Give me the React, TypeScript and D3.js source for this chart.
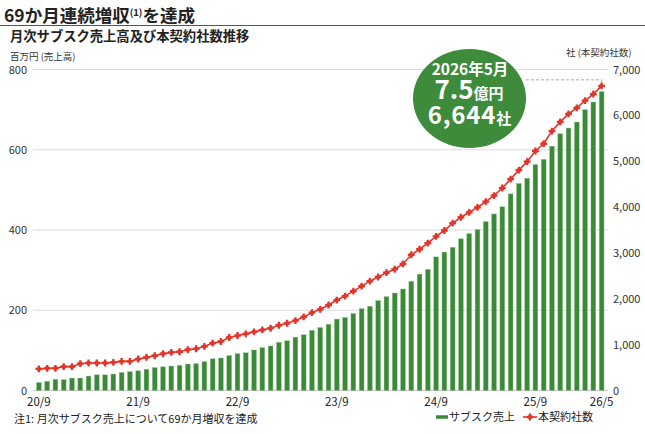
import React from "react";
import * as d3 from "d3";

const months: string[] = [];
const startY = 2020, startM = 9;
for (let i = 0; i < 69; i++) {
  const m = ((startM - 1 + i) % 12) + 1;
  const y = startY + Math.floor((startM - 1 + i) / 12);
  months.push(`${String(y).slice(2)}/${m}`);
}

const sales: number[] = [
  20, 23, 28, 27, 31, 31, 36, 39, 39, 41, 45, 47, 49, 53, 57, 59, 61, 63, 66, 67, 72,
  79, 81, 87, 92, 94, 101, 107, 111, 120, 124, 133, 139, 150, 157, 165, 178, 182, 192, 204, 210, 224, 234, 243, 253,
  272, 290, 302, 333, 345, 357, 378, 391, 401, 421, 440, 458, 490, 516, 529, 563, 576, 609, 640, 654, 669, 700, 719, 745,
];

const clients: number[] = [
  470, 484, 484, 520, 520, 585, 600, 600, 600, 614, 636, 636, 686, 722, 758, 802, 831, 845, 889, 910, 961,
  1033, 1069, 1156, 1199, 1235, 1279, 1322, 1358, 1423, 1467, 1524, 1604, 1698, 1770, 1864, 1972, 2059, 2167, 2276, 2385, 2476, 2570, 2645, 2760,
  2960, 3080, 3213, 3360, 3489, 3650, 3778, 3886, 3994, 4118, 4248, 4415, 4610, 4805, 4991, 5223, 5381, 5657, 5858, 6032, 6162, 6322, 6465, 6644,
];

const xTickLabels: string[] = ["20/9", "21/9", "22/9", "23/9", "24/9", "25/9", "26/5"];
const leftTicks: number[] = [0, 200, 400, 600, 800];
const rightTicks: number[] = [0, 1000, 2000, 3000, 4000, 5000, 6000, 7000];

const FONT = "'Noto Sans CJK JP', 'Noto Sans', sans-serif";
const GREEN = "#3a8a38";
const RED = "#e0362c";

function Marker({ x, y }: { x: number; y: number }) {
  const cross = d3.symbol().type(d3.symbolCross).size(26)() as string;
  return (
    <g transform={`translate(${x},${y})`}>
      <circle r={2.2} fill={RED} />
      <path d={cross} fill={RED} />
    </g>
  );
}

export default function App() {
  const x = d3.scaleBand<string>().domain(months).range([33, 607.5]).padding(0.42);
  const yL = d3.scaleLinear().domain([0, 800]).range([390.5, 69.5]);
  const yR = d3.scaleLinear().domain([0, 7000]).range([390.5, 69.5]);
  const cx = (m: string) => (x(m) as number) + x.bandwidth() / 2;

  const line = d3
    .line<number>()
    .x((_, i) => cx(months[i]))
    .y((d) => yR(d));

  const fmt = d3.format(",");
  const last = months.length - 1;

  return (
    <svg
      width={645}
      height={434}
      style={{ position: "absolute", left: 0, top: 0, background: "#fff" }}
      fontFamily={FONT}
    >
      <rect width={645} height={434} fill="#fff" />
      {/* Title */}
      <text x={4} y={22} fontSize={17.5} fontWeight={700} fill="#222">
        69か月連続増収
        <tspan fontSize={9.5} dy={-6}>(1)</tspan>
        <tspan dy={6}>を達成</tspan>
      </text>
      <line x1={0} x2={645} y1={25.5} y2={25.5} stroke="#555" strokeWidth={1.2} />
      <text x={10} y={41} fontSize={13.3} fontWeight={700} fill="#222">
        月次サブスク売上高及び本契約社数推移
      </text>
      <text x={10} y={60} fontSize={9.5} fill="#333">
        百万円 (売上高)
      </text>
      <text x={566} y={55.5} fontSize={9.5} fill="#333">
        社 (本契約社数)
      </text>

      {/* gridlines */}
      {leftTicks.filter((t) => t > 0).map((t) => (
        <line key={t} x1={33} x2={608} y1={yL(t)} y2={yL(t)} stroke="#dcdcdc" strokeWidth={1} />
      ))}
      <line x1={33} x2={608} y1={yL(0)} y2={yL(0)} stroke="#c8c8c8" strokeWidth={1} />

      {/* left ticks */}
      {leftTicks.map((t) => (
        <text key={t} x={27} y={yL(t) + 4} fontSize={11} textAnchor="end" fill="#333">
          {t}
        </text>
      ))}
      {/* right ticks */}
      {rightTicks.map((t) => (
        <text key={t} x={613} y={yR(t) + 4} fontSize={11} fill="#333">
          {fmt(t)}
        </text>
      ))}

      {/* bars */}
      {sales.map((v, i) => (
        <rect
          key={i}
          x={x(months[i])}
          y={yL(v)}
          width={x.bandwidth()}
          height={yL(0) - yL(v)}
          fill={GREEN}
          stroke="#8fc58a"
          strokeWidth={0.4}
        />
      ))}

      {/* dashed leader */}
      <path
        d={`M526,${yR(6644) - 6} H${cx(months[last])} V${yR(clients[last]) - 2}`}
        fill="none"
        stroke="#aaa"
        strokeWidth={1}
        strokeDasharray="3,2"
      />

      {/* line */}
      <path d={line(clients) as string} fill="none" stroke={RED} strokeWidth={1.6} />
      {clients.map((v, i) => (
        <Marker key={i} x={cx(months[i])} y={yR(v)} />
      ))}

      {/* x labels */}
      {xTickLabels.map((lab) => {
        const idx = months.indexOf(lab);
        return (
          <text key={lab} x={cx(months[idx])} y={406} fontSize={11.5} textAnchor="middle" fill="#222">
            {lab}
          </text>
        );
      })}

      {/* badge */}
      <ellipse cx={469.5} cy={98.5} rx={56.5} ry={49.5} fill="#3d8b3b" />
      <text x={470} y={74.5} fontSize={15.5} fontWeight={700} fill="#fff" textAnchor="middle">
        2026年5月
      </text>
      <text x={469} y={98.5} fontWeight={700} fill="#fff" textAnchor="middle">
        <tspan fontSize={26}>7.5</tspan>
        <tspan fontSize={15}>億円</tspan>
      </text>
      <text x={469.5} y={123.5} fontWeight={700} fill="#fff" textAnchor="middle">
        <tspan fontSize={24} letterSpacing={0.8}>6,644</tspan>
        <tspan fontSize={15}>社</tspan>
      </text>

      {/* note */}
      <text x={14} y={423} fontSize={11} fill="#222">
        注1: 月次サブスク売上について69か月増収を達成
      </text>

      {/* legend */}
      <line x1={436} x2={448} y1={417} y2={417} stroke={GREEN} strokeWidth={3.5} />
      <text x={449} y={421} fontSize={11} fill="#222">サブスク売上</text>
      <line x1={523} x2={537} y1={417} y2={417} stroke={RED} strokeWidth={1.6} />
      <Marker x={530} y={417} />
      <text x={538} y={421} fontSize={11} fill="#222">本契約社数</text>
    </svg>
  );
}
